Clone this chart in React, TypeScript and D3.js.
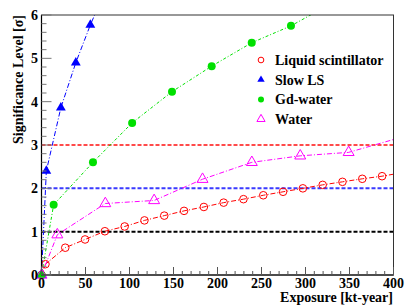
import React from 'react'
import * as d3 from 'd3'

// exposure [kt-year] and significance for each detector option
const lsX = [0, 4.5, 27, 49.5, 72, 94.5, 117, 139.5, 162, 184.5, 207, 229.5, 252, 274.5, 297, 319.5, 342, 364.5, 387, 409.5]
const lsY = [0, 0.25, 0.63, 0.82, 1.01, 1.12, 1.26, 1.37, 1.48, 1.57, 1.67, 1.75, 1.84, 1.92, 2.0, 2.08, 2.15, 2.22, 2.28, 2.36]

const slowX = [0, 5.5, 22, 39, 55.5, 72]
const slowY = [0, 2.4, 3.86, 4.9, 5.77, 6.55]

const gdX = [0, 13.8, 58.5, 103, 148.3, 193.4, 238.9, 283.5, 328]
const gdY = [0, 1.62, 2.6, 3.51, 4.23, 4.82, 5.36, 5.75, 6.25]

const waterX = [0, 18, 72.5, 128, 183, 239, 294, 349, 404]
const waterY = [0, 0.93, 1.65, 1.72, 2.21, 2.6, 2.75, 2.83, 3.15]

const levels = [1, 2, 3]
const levelColors = ['#000000', '#3a3aff', '#ff4a4a']

const legendNames = ['Liquid scintillator', 'Slow LS', 'Gd-water', 'Water']

const xTicks = [0, 50, 100, 150, 200, 250, 300, 350, 400]
const yTicks = [0, 1, 2, 3, 4, 5, 6]

const W = 415, H = 306
const x = d3.scaleLinear().domain([0, 400]).range([41.5, 393.5])
const y = d3.scaleLinear().domain([0, 6]).range([275, 15])
const font = "'Liberation Serif', 'Times New Roman', serif"

type Series = { xs: number[], ys: number[], color: string, marker: string, dash: string }

const series: Series[] = [
    { xs: lsX, ys: lsY, color: '#ff0000', marker: 'circleOpen', dash: '5,2,1,2' },
    { xs: slowX, ys: slowY, color: '#0000ff', marker: 'triFilled', dash: '5,2,1,2' },
    { xs: gdX, ys: gdY, color: '#00e000', marker: 'circleFilled', dash: '3,2,1,2' },
    { xs: waterX, ys: waterY, color: '#ff00ff', marker: 'triOpen', dash: '5,2,1,2' },
]

const Marker = ({ kind, cx, cy, color, s = 1 }: { kind: string, cx: number, cy: number, color: string, s?: number }) => {
    if (kind === 'circleOpen')
        return <circle cx={cx} cy={cy} r={3.8 * s} fill="none" stroke={color} strokeWidth={1} />
    if (kind === 'circleFilled')
        return <circle cx={cx} cy={cy} r={4 * s} fill={color} />
    const tri = d3.symbol(d3.symbolTriangle, 42 * s * s)()
    if (kind === 'triFilled')
        return <path d={tri || ''} transform={`translate(${cx},${cy})`} fill={color} />
    return <path d={d3.symbol(d3.symbolTriangle, 52 * s * s)() || ''} transform={`translate(${cx},${cy})`} fill="none" stroke={color} strokeWidth={1} />
}

export default function App() {
    const line = d3.line<[number, number]>().x(d => x(d[0])).y(d => y(d[1]))

    const xMinor = d3.range(0, 401, 10).filter(v => v % 50 !== 0)
    const yMinor = d3.range(0, 6.01, 0.2).filter(v => Math.abs(v - Math.round(v)) > 0.01)

    const [x0, x1] = x.range()
    const [y0, y1] = y.range()

    return (
        <svg width={W} height={H} style={{ position: 'absolute', left: 0, top: 0, background: '#fff' }}>
            <defs>
                <clipPath id="plot">
                    <rect x={x0} y={y1} width={x1 - x0} height={y0 - y1} />
                </clipPath>
            </defs>

            {/* threshold lines */}
            {levels.map((l, i) => (
                <line key={l} x1={x(0)} x2={x(400)} y1={y(l)} y2={y(l)}
                    stroke={levelColors[i]} strokeWidth={2} strokeDasharray="4,2" />
            ))}

            {/* series lines */}
            <g clipPath="url(#plot)">
                {series.map((s, i) => (
                    <path key={i} d={line(s.xs.map((v, j) => [v, s.ys[j]] as [number, number])) || ''}
                        fill="none" stroke={s.color} strokeWidth={1} strokeDasharray={s.dash} />
                ))}
            </g>

            {/* markers */}
            {series.map((s, i) => (
                <g key={i}>
                    {s.xs.map((v, j) => (v <= 400 && s.ys[j] <= 6) ? (
                        <Marker key={j} kind={s.marker} cx={x(v)} cy={y(s.ys[j])} color={s.color} />
                    ) : null)}
                </g>
            ))}

            {/* frame */}
            <rect x={x0} y={y1} width={x1 - x0} height={y0 - y1} fill="none" stroke="#333" strokeWidth={1} />
            <line x1={x0} x2={x0} y1={y1} y2={y0} stroke="#000" strokeWidth={1.2} />
            <line x1={x0} x2={x1} y1={y0} y2={y0} stroke="#000" strokeWidth={1.2} />

            {/* ticks */}
            {xTicks.map(t => <line key={'xt' + t} x1={x(t)} x2={x(t)} y1={y0} y2={y0 - 8} stroke="#555" />)}
            {xMinor.map(t => <line key={'xm' + t} x1={x(t)} x2={x(t)} y1={y0} y2={y0 - 4} stroke="#555" />)}
            {yTicks.map(t => <line key={'yt' + t} x1={x0} x2={x0 + 10} y1={y(t)} y2={y(t)} stroke="#777" />)}
            {yMinor.map(t => <line key={'ym' + t} x1={x0} x2={x0 + 5} y1={y(t)} y2={y(t)} stroke="#777" />)}

            {/* tick labels */}
            <g style={{ fontFamily: font, fontWeight: 'bold', fontSize: 14 }}>
                {xTicks.map(t => <text key={t} x={x(t)} y={288} textAnchor="middle">{t}</text>)}
                {yTicks.map(t => <text key={t} x={38} y={y(t)} dy="0.35em" textAnchor="end">{t}</text>)}
            </g>

            {/* axis titles */}
            <g style={{ fontFamily: font, fontWeight: 'bold', fontSize: 14 }}>
                <text x={393} y={301.5} textAnchor="end">Exposure [kt-year]</text>
                <text transform={`translate(23,15) rotate(-90)`} textAnchor="end">Significance Level [σ]</text>
            </g>

            {/* legend */}
            <g style={{ fontFamily: font, fontWeight: 'bold', fontSize: 14 }}>
                {legendNames.map((n, i) => (
                    <g key={n}>
                        <Marker kind={series[i].marker} cx={261} cy={60 + i * 19.7} color={series[i].color} s={0.75} />
                        <text x={275} y={60 + i * 19.7} dy="0.35em">{n}</text>
                    </g>
                ))}
            </g>
        </svg>
    )
}
